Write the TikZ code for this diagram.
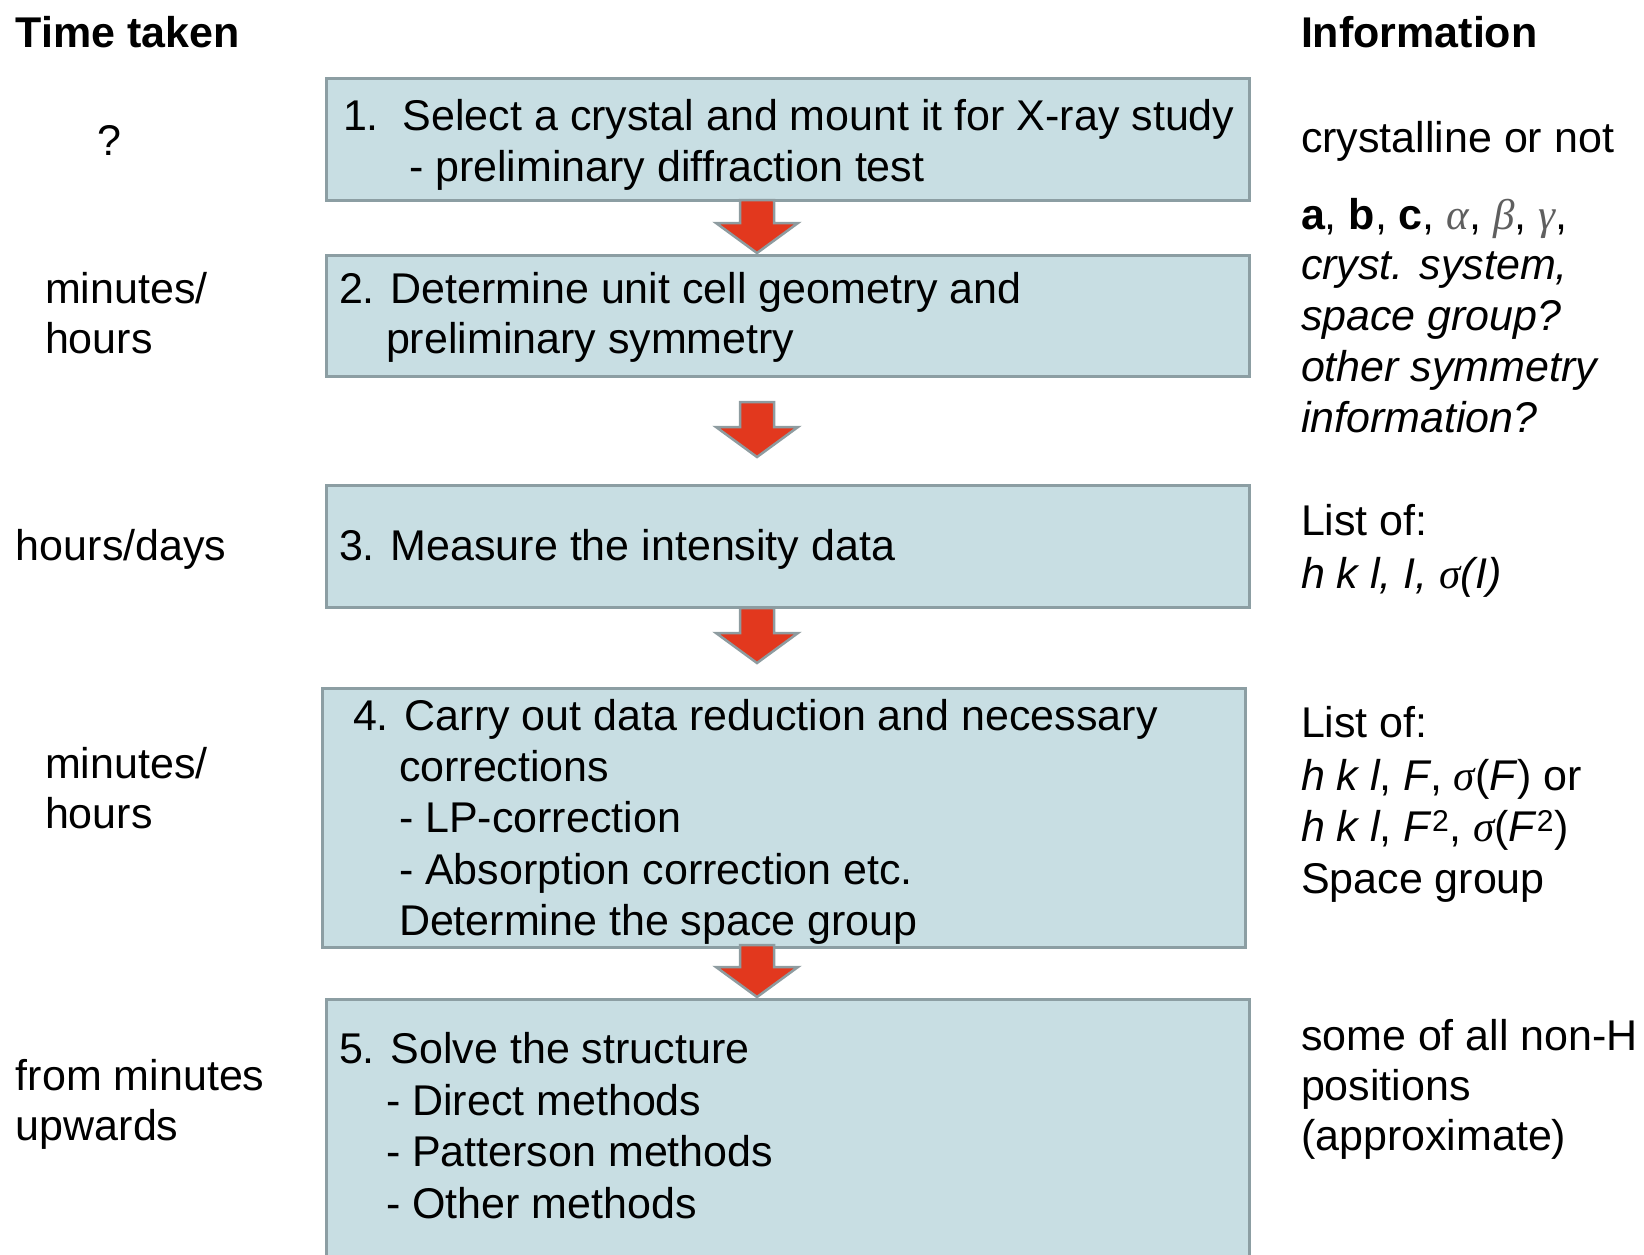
\documentclass[tikz,border=0pt]{standalone}
\usepackage{fontspec}
\setmainfont{Liberation Sans}
\newfontfamily\grk{Liberation Serif}
\usetikzlibrary{calc}
\definecolor{boxfill}{RGB}{200,222,227}
\definecolor{boxline}{RGB}{140,158,163}
\definecolor{arrred}{RGB}{226,56,30}
\definecolor{arrline}{RGB}{142,156,160}
\definecolor{greekgray}{RGB}{95,95,95}
\newcommand\gk[1]{{\color{greekgray}\grk\itshape #1}}
\newcommand\sg{{\grk\itshape σ}}
\begin{document}
\begin{tikzpicture}[x=1pt,y=-1pt,
  txt/.style={anchor=base west, inner sep=0pt, outer sep=0pt, font=\fontsize{43}{50}\selectfont},
  stepbox/.style={anchor=north west, draw=boxline, fill=boxfill, line width=3pt, inner sep=0pt, minimum width=923pt},
  blockarr/.style={fill=arrred, draw=arrline, line width=2.5pt, line join=miter}]
\useasboundingbox (0,0) rectangle (1644,1255);
\clip (0,0) rectangle (1644,1255);

% boxes
\node[stepbox, minimum height=122pt] (b1) at (325,77) {};
\node[stepbox, minimum height=121pt] (b2) at (325,254) {};
\node[stepbox, minimum height=122pt] (b3) at (325,484) {};
\node[stepbox, minimum height=259pt] (b4) at (321,687) {};
\node[stepbox, minimum height=300pt] (b5) at (325,998) {};

% block arrows
\newcommand\blockarrow[4]{%
  \coordinate (#1) at (#2,#3);
  \draw[blockarr] ($(#1)+(-17,0)$) -- ($(#1)+(17,0)$) -- ($(#1)+(17,#4)$) -- ($(#1)+(41,#4)$)
     -- ($(#1)+(0,#4+30)$) -- ($(#1)+(-41,#4)$) -- ($(#1)+(-17,#4)$) -- cycle;}
\blockarrow{a1}{757}{200}{23}
\blockarrow{a2}{757}{402}{25}
\blockarrow{a3}{757}{608}{25}
\blockarrow{a4}{757}{945}{22}

% headings
\node[txt] (tt) at (16,48) {\bfseries Time taken};
\node[txt] (inf) at (1301,48) {\bfseries Information};

% left column
\node[txt] (q) at (97,155) {?};
\node[txt] (l2a) at (45,303) {minutes/};
\node[txt] (l2b) at (45,353) {hours};
\node[txt] (l3) at (16,560) {hours/days};
\node[txt] (l4a) at (45,778) {minutes/};
\node[txt] (l4b) at (45,828) {hours};
\node[txt] (l5a) at (16,1090) {from minutes};
\node[txt] (l5b) at (16,1140) {upwards};

% box texts
\node[txt] (t1a) at (343,130) {1.\ \ Select a crystal and mount it for X-ray study};
\node[txt] (t1b) at (409,181) {- preliminary diffraction test};
\node[txt] (t2a) at (339,303) {2. Determine unit cell geometry and};
\node[txt] (t2b) at (386,353) {preliminary symmetry};
\node[txt] (t3a) at (339,560) {3. Measure the intensity data};
\node[txt] (t4a) at (353,730) {4. Carry out data reduction and necessary};
\node[txt] (t4b) at (399,781) {corrections};
\node[txt] (t4c) at (399,832) {- LP-correction};
\node[txt] (t4d) at (399,884) {- Absorption correction etc.};
\node[txt] (t4e) at (399,935) {Determine the space group};
\node[txt] (t5a) at (339,1063) {5. Solve the structure};
\node[txt] (t5b) at (386,1115) {- Direct methods};
\node[txt] (t5c) at (386,1166) {- Patterson methods};
\node[txt] (t5d) at (386,1218) {- Other methods};

% right column
\node[txt] (r1) at (1301,152) {crystalline or not};
\node[txt] (r2a) at (1301,229) {\textbf{a}, \textbf{b}, \textbf{c}, \gk{α}, \gk{β}, \gk{γ},};
\node[txt] (r2b) at (1301,279) {\itshape cryst. system,};
\node[txt] (r2c) at (1301,330) {\itshape space group?};
\node[txt] (r2d) at (1301,381) {\itshape other symmetry};
\node[txt] (r2e) at (1301,432) {\itshape information?};
\node[txt] (r3a) at (1301,535) {List of:};
\node[txt] (r3b) at (1301,588) {\itshape h k l, I, \sg(I)};
\node[txt] (r4a) at (1301,737) {List of:};
\node[txt] (r4b) at (1301,790) {\textit{h k l}, \textit{F}, \sg(\textit{F}) or};
\node[txt] (r4c) at (1301,841) {\textit{h k l}, \textit{F}\textsuperscript{2}, \sg(\textit{F}\textsuperscript{2})};
\node[txt] (r4d) at (1301,893) {Space group};
\node[txt] (r5a) at (1301,1050) {some of all non-H};
\node[txt] (r5b) at (1301,1100) {positions};
\node[txt] (r5c) at (1301,1150) {(approximate)};
\end{tikzpicture}
\end{document}
